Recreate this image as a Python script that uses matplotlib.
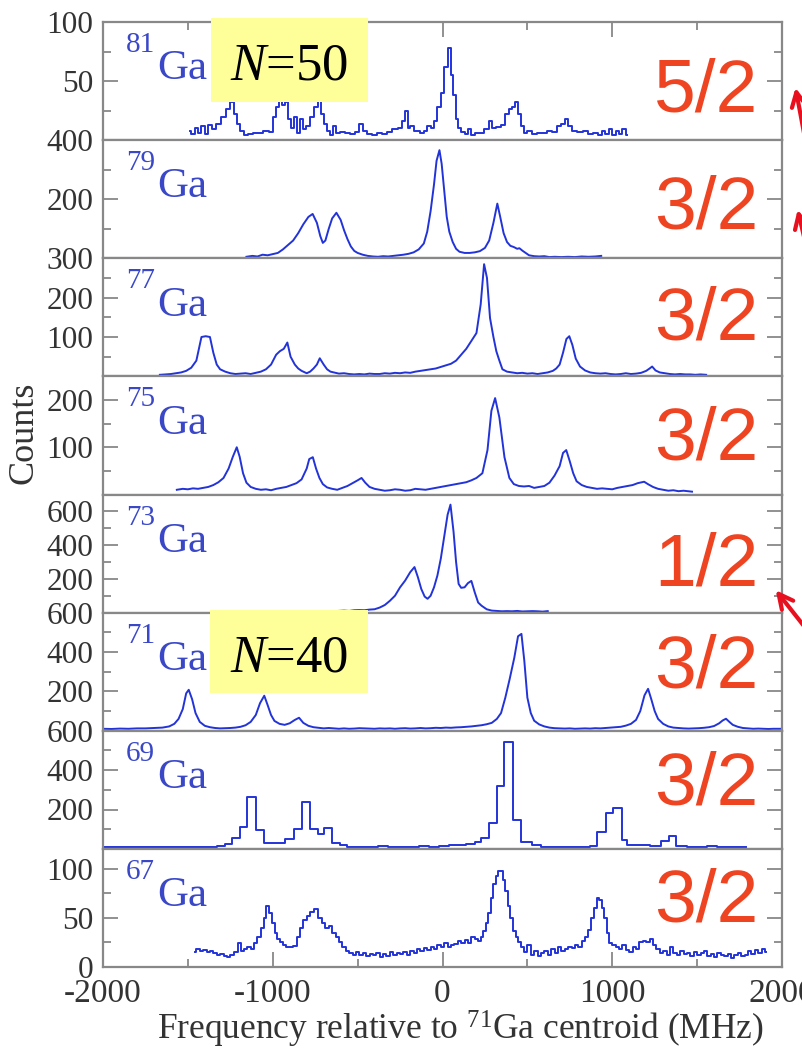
import numpy as np
import matplotlib
matplotlib.use('Agg')
import matplotlib.pyplot as plt
from matplotlib.ticker import MultipleLocator
from matplotlib.patches import Rectangle, FancyArrowPatch

plt.rcParams['font.family'] = 'Liberation Serif'
plt.rcParams['mathtext.fontset'] = 'custom'
plt.rcParams['mathtext.rm'] = 'Liberation Serif'
plt.rcParams['mathtext.it'] = 'Liberation Serif:italic'
plt.rcParams['axes.unicode_minus'] = False

# ---- data (frequency in MHz, counts) ----
f81 = [-1490, -1470, -1450, -1430, -1410, -1390, -1370, -1350, -1320, -1290, -1260, -1240, -1220, -1200,
       -1180, -1160, -1130, -1100, -1070, -1040, -1010, -990, -970, -955, -940, -920, -900, -880, -865,
       -850, -830, -815, -795, -770, -745, -725, -705, -690, -670, -650, -640, -620, -590, -560, -530,
       -500, -480, -460, -430, -400, -370, -340, -310, -280, -250, -230, -212, -200, -180, -150, -120,
       -100, -80, -60, -40, -20, 0, 20, 40, 55, 70, 85, 100, 120, 140, 160, 180, 200, 230, 260, 288,
       300, 330, 360, 380, 400, 420, 435, 450, 470, 490, 510, 540, 570, 600, 630, 660, 690, 710, 729,
       750, 780, 810, 840, 870, 900, 930, 950, 970, 990, 1010, 1030, 1050, 1070, 1088]
c81 = [8, 5, 10, 6, 12, 5, 13, 9, 14, 20, 26, 32, 22, 14,
       8, 4, 5, 6, 6, 8, 7, 20, 28, 40, 30, 32, 18, 10, 20,
       6, 18, 9, 12, 20, 28, 34, 22, 14, 8, 4, 12, 6, 7, 6, 5,
       7, 14, 8, 5, 4, 6, 5, 7, 9, 10, 16, 25, 10, 12, 8, 6,
       8, 12, 10, 16, 28, 40, 62, 78, 55, 38, 18, 10, 7, 5, 9, 4, 6, 6, 9, 16,
       10, 11, 13, 22, 26, 28, 32, 22, 12, 6, 8, 5, 6, 6, 8, 7, 12, 14, 18,
       12, 8, 7, 8, 5, 6, 4, 8, 5, 9, 4, 8, 5, 9, 4]

f79 = [-1155, -1120, -1090, -1060, -1030, -1000, -970, -940, -910, -880, -850, -820, -790, -765, -740,
       -720, -705, -690, -670, -650, -625, -600, -580, -560, -540, -520, -500, -470, -440, -410, -380,
       -350, -320, -290, -260, -230, -200, -170, -140, -110, -90, -70, -50, -35, -18, -5, 10, 25, 40,
       60, 80, 100, 130, 160, 190, 220, 250, 275, 300, 323, 340, 360, 380, 400, 420, 440, 453, 470, 490,
       510, 540, 570, 600, 630, 660, 700, 740, 780, 820, 860, 900, 935]
c79 = [5, 8, 6, 12, 10, 14, 18, 30, 45, 60, 85, 115, 140, 150, 120,
       75, 52, 60, 100, 135, 154, 130, 95, 65, 40, 25, 18, 12, 8, 6, 5,
       7, 6, 8, 10, 12, 15, 20, 30, 50, 90, 160, 250, 330, 366, 320, 230, 140, 90,
       55, 32, 22, 18, 18, 20, 24, 35, 60, 120, 185, 140, 85, 55, 42, 38, 32, 34, 26, 18,
       10, 7, 6, 7, 4, 5, 4, 5, 4, 6, 5, 6, 8]

f77 = [-1665, -1630, -1600, -1570, -1540, -1510, -1480, -1450, -1420, -1395, -1370, -1350, -1330, -1310,
       -1280, -1250, -1220, -1190, -1160, -1130, -1100, -1070, -1040, -1010, -980, -958, -935, -914,
       -895, -870, -850, -830, -800, -780, -760, -740, -723, -700, -680, -660, -640, -610, -580, -550,
       -520, -490, -460, -430, -400, -370, -340, -310, -280, -250, -220, -190, -160, -130, -100, -70,
       -40, -10, 20, 50, 80, 110, 140, 170, 200, 225, 245, 262, 280, 300, 317, 335, 353, 380, 410, 440,
       470, 500, 530, 560, 590, 620, 650, 670, 690, 710, 730, 747, 765, 785, 810, 840, 870, 900, 930,
       960, 990, 1020, 1050, 1080, 1110, 1140, 1170, 1200, 1220, 1235, 1255, 1280, 1310, 1340, 1370,
       1400, 1430, 1460, 1490, 1520, 1553]
c77 = [4, 5, 6, 8, 10, 14, 22, 40, 100, 102, 100, 60, 30, 18,
       12, 8, 6, 7, 8, 6, 9, 12, 18, 30, 55, 64, 70, 86,
       50, 30, 20, 14, 8, 12, 20, 30, 46, 30, 18, 12, 10, 7, 8, 6,
       5, 6, 5, 7, 6, 6, 8, 7, 9, 8, 10, 9, 12, 14, 16, 18,
       20, 24, 28, 32, 40, 55, 70, 90, 110, 183, 285, 250, 148, 100, 64, 40, 18, 12, 10, 8,
       9, 7, 8, 6, 8, 10, 14, 20, 30, 60, 95, 102, 80, 45, 25, 15, 10, 8, 7,
       8, 6, 5, 6, 8, 6, 7, 9, 14, 20, 25, 15, 10, 8, 6, 5,
       6, 5, 5, 4, 5, 4]

f75 = [-1565, -1530, -1500, -1470, -1440, -1410, -1380, -1350, -1320, -1290, -1260, -1235, -1212,
       -1195, -1175, -1155, -1130, -1100, -1070, -1040, -1010, -980, -950, -920, -890, -860, -830,
       -800, -785, -764, -745, -725, -705, -680, -650, -620, -590, -560, -530, -500, -477, -455, -430,
       -400, -370, -340, -310, -280, -250, -220, -190, -160, -130, -100, -70, -40, -10, 20, 50, 80,
       110, 140, 170, 200, 235, 265, 288, 310, 335, 365, 394, 420, 450, 480, 510, 540, 570, 600, 630,
       660, 690, 710, 729, 750, 770, 790, 820, 850, 880, 910, 940, 970, 1000, 1030, 1060, 1090, 1120,
       1150, 1188, 1210, 1240, 1270, 1300, 1330, 1360, 1390, 1420, 1470]
c75 = [10, 12, 11, 13, 12, 14, 16, 20, 26, 35, 55, 80, 100,
       80, 45, 25, 16, 12, 10, 11, 9, 12, 14, 16, 20, 24, 32,
       55, 75, 79, 55, 35, 22, 15, 12, 10, 14, 18, 24, 30, 35, 25, 16,
       12, 10, 8, 9, 11, 10, 8, 9, 12, 11, 10, 12, 14, 16, 18, 20, 22,
       24, 26, 30, 35, 45, 94, 177, 204, 163, 79, 35, 22, 18, 17, 18, 14, 16, 18, 25,
       40, 60, 88, 94, 70, 45, 28, 20, 16, 14, 12, 13, 12, 11, 14, 16, 18, 20,
       24, 27, 22, 16, 12, 10, 8, 9, 7, 8, 6]

f73 = [-615, -580, -550, -520, -490, -460, -430, -400, -370, -340, -310, -280, -250, -220, -190, -165,
       -145, -125, -105, -88, -70, -50, -30, -10, 10, 30, 47, 65, 80, 95, 110, 130, 150, 170, 190, 210,
       230, 260, 290, 320, 350, 380, 410, 440, 470, 500, 530, 560, 590, 620]
c73 = [10, 12, 10, 14, 15, 14, 18, 20, 30, 45, 70, 100, 150, 190, 240, 270,
       210, 140, 95, 82, 100, 150, 220, 320, 450, 580, 640, 480, 300, 170, 147, 150, 175, 188, 120, 60,
       41, 20, 12, 10, 8, 9, 8, 10, 7, 8, 9, 8, 6, 9]

f71 = [-2000, -1950, -1900, -1850, -1800, -1750, -1700, -1650, -1610, -1580, -1555, -1530, -1510, -1495,
       -1475, -1455, -1430, -1400, -1370, -1340, -1310, -1280, -1250, -1220, -1190, -1160, -1130, -1100,
       -1075, -1050, -1030, -1010, -990, -960, -930, -900, -870, -845, -820, -790, -760, -730, -700,
       -670, -640, -610, -580, -550, -520, -490, -460, -430, -400, -370, -340, -310, -280, -250, -220,
       -190, -160, -130, -100, -70, -40, -10, 20, 50, 80, 110, 140, 170, 200, 230, 260, 290, 320, 345,
       370, 395, 423, 445, 465, 482, 500, 520, 540, 570, 600, 630, 660, 690, 720, 750, 780, 810, 840,
       870, 900, 930, 960, 990, 1020, 1050, 1080, 1110, 1140, 1165, 1190, 1211, 1230, 1250, 1270, 1300,
       1330, 1360, 1390, 1420, 1450, 1480, 1510, 1540, 1570, 1600, 1630, 1650, 1670, 1690, 1710, 1740,
       1770, 1800, 1830, 1860, 1890, 1920, 1950, 2000]
c71 = [10, 9, 11, 10, 12, 12, 14, 16, 22, 35, 60, 110, 190, 208,
       160, 90, 45, 25, 18, 14, 12, 13, 14, 16, 20, 28, 45, 80,
       140, 178, 130, 80, 50, 35, 30, 38, 55, 66, 40, 25, 18, 15, 12,
       14, 12, 10, 12, 10, 11, 13, 12, 11, 10, 12, 11, 12, 10, 12, 13,
       11, 12, 14, 12, 13, 15, 14, 16, 15, 17, 18, 20, 22, 25, 28, 33, 40, 60, 90,
       168, 260, 371, 480, 492, 355, 168, 90, 51, 32, 22, 16, 13, 12, 11, 12, 10, 11, 12,
       11, 13, 12, 14, 16, 18, 20, 26, 35, 55, 100, 180, 213, 160, 100, 60, 35,
       22, 16, 14, 12, 11, 12, 13, 15, 18, 24, 38, 52, 61, 45, 30, 20,
       14, 12, 10, 11, 10, 9, 10, 10]

# 69Ga is a coarse histogram: bin left edges and counts
f69 = [-2000, -1900, -1800, -1700, -1600, -1500, -1400, -1330, -1280, -1240, -1193, -1149, -1097, -1053,
       -1007, -929, -877, -830, -778, -734, -696, -649, -605, -560, -500, -440, -380, -320, -260, -200,
       -140, -80, -20, 40, 90, 140, 190, 229, 276, 323, 364, 418, 464, 530, 580, 640, 700, 760, 820,
       870, 912, 963, 1005, 1058, 1085, 1150, 1220, 1290, 1335, 1376, 1440, 1500, 1560, 1620, 1680,
       1740, 1790]
c69 = [12, 11, 10, 11, 9, 10, 12, 15, 25, 55, 110, 265, 95, 28,
       28, 50, 100, 237, 100, 76, 106, 30, 18, 12, 8, 10, 14, 10, 12, 10,
       13, 12, 15, 18, 22, 27, 35, 55, 130, 320, 545, 148, 35, 18, 12, 10, 8, 10, 12,
       15, 86, 182, 207, 45, 20, 18, 16, 40, 66, 15, 12, 10, 13, 11, 12,
       10, 10]

f67 = [-1460, -1440, -1420, -1400, -1380, -1360, -1340, -1320, -1300, -1280, -1260, -1240, -1220, -1195,
       -1180, -1160, -1140, -1120, -1100, -1080, -1060, -1045, -1029, -1010, -995, -980, -965, -950,
       -930, -910, -890, -870, -850, -830, -810, -790, -770, -741, -720, -700, -680, -660, -640, -620,
       -600, -580, -560, -540, -520, -500, -480, -460, -440, -420, -400, -380, -360, -340, -320, -300,
       -280, -260, -240, -220, -200, -180, -160, -140, -120, -100, -80, -60, -40, -20, 0, 20, 40, 60,
       80, 100, 120, 141, 160, 180, 200, 218, 235, 247, 262, 276, 292, 306, 320, 335, 350, 362, 376,
       390, 405, 423, 440, 453, 470, 490, 510, 530, 550, 570, 590, 610, 630, 650, 670, 690, 710, 730,
       750, 770, 790, 810, 830, 850, 870, 885, 900, 915, 930, 945, 960, 975, 990, 1010, 1030, 1050,
       1070, 1090, 1110, 1130, 1150, 1170, 1190, 1210, 1230, 1250, 1270, 1290, 1310, 1330, 1350, 1370,
       1390, 1410, 1430, 1450, 1470, 1490, 1510, 1530, 1550, 1570, 1590, 1610, 1630, 1650, 1670, 1690,
       1710, 1730, 1750, 1770, 1790, 1810, 1830, 1850, 1870, 1890, 1905]
c67 = [15, 18, 16, 17, 15, 16, 14, 12, 13, 11, 10, 12, 15, 24,
       16, 18, 20, 18, 24, 30, 40, 50, 62, 55, 45, 35, 28, 25,
       22, 20, 20, 21, 30, 40, 48, 52, 56, 59, 50, 45, 40, 42, 35, 30,
       25, 20, 16, 14, 12, 15, 12, 14, 11, 13, 12, 14, 10, 13, 11, 15,
       12, 14, 13, 15, 12, 16, 14, 18, 16, 19, 17, 20, 18, 22, 20, 24, 20, 22,
       23, 26, 24, 27, 24, 30, 28, 26, 30, 37, 45, 55, 70, 84, 92, 98, 98, 88, 77,
       62, 50, 37, 30, 25, 20, 15, 22, 12, 16, 11, 14, 16, 12, 18, 14, 20, 16, 18,
       20, 19, 22, 20, 26, 30, 38, 50, 60, 70, 68, 60, 50, 35, 24, 22, 20, 18,
       22, 17, 15, 20, 18, 25, 26, 25, 28, 22, 18, 14, 16, 12, 20, 14,
       12, 16, 13, 14, 11, 15, 12, 14, 16, 11, 13, 10, 14, 12, 11, 13,
       9, 12, 14, 11, 12, 16, 13, 17, 14, 18, 15]

isotopes = ['81', '79', '77', '75', '73', '71', '69', '67']
spins = ['5/2', '3/2', '3/2', '3/2', '1/2', '3/2', '3/2', '3/2']
spectra = [(f81, c81), (f79, c79), (f77, c77), (f75, c75),
           (f73, c73), (f71, c71), (f69, c69), (f67, c67)]

# axis ranges per panel
ymax = [100, 400, 300, 250, 700, 600, 600, 120]
ystep = [50, 200, 100, 100, 200, 200, 200, 50]
spin_y = [0.246, 0.254, 0.314, 0.297, 0.229, 0.364, 0.373, 0.381]

blue = '#2233d8'
label_blue = '#3a48c8'
red = '#ee4422'
grey = '#888888'

fig, axes = plt.subplots(8, 1, figsize=(8.03, 10.52), dpi=100)
fig.subplots_adjust(left=103/803, right=782/803, top=1-22/1052, bottom=1-967/1052, hspace=0)

for i, ax in enumerate(axes):
    f, c = spectra[i]
    if isotopes[i] == '69':
        ax.step(f, c, where='post', color=blue, lw=1.4)
    elif isotopes[i] in ('67', '81'):
        ax.plot(f, c, drawstyle='steps-mid', color=blue, lw=1.4)
    else:
        ax.plot(f, c, color=blue, lw=1.4)
    ax.set_xlim(-2000, 2000)
    ax.set_ylim(0, ymax[i])
    if i == len(axes) - 1:
        ax.set_yticks(np.arange(0, ymax[i] + 1, ystep[i]))
    else:
        ax.set_yticks(np.arange(ystep[i], ymax[i] + 1, ystep[i]))
    ax.yaxis.set_minor_locator(MultipleLocator(ystep[i] / 2))
    ax.xaxis.set_major_locator(MultipleLocator(1000))
    ax.xaxis.set_minor_locator(MultipleLocator(500))
    for s in ax.spines.values():
        s.set_color(grey)
        s.set_linewidth(1.6)
    ax.tick_params(axis='y', which='both', direction='in', left=True, right=True,
                   color=grey, width=1.3, labelsize=22.5, labelcolor='#333333', pad=7)
    ax.tick_params(axis='y', which='major', length=11)
    ax.tick_params(axis='y', which='minor', length=6)
    ax.tick_params(axis='x', which='both', direction='in', bottom=(i == 7), top=(i == 0),
                   labelbottom=(i == 7), color=grey, width=1.3, labelsize=24,
                   labelcolor='#333333', pad=8)
    ax.tick_params(axis='x', which='major', length=11)
    ax.tick_params(axis='x', which='minor', length=6)

    ax.text(0.034, 0.745, isotopes[i], transform=ax.transAxes, color=label_blue,
            fontsize=21, va='baseline', ha='left')
    ax.text(0.0795, 0.515, 'Ga', transform=ax.transAxes, color=label_blue,
            fontsize=31, va='baseline', ha='left')
    ax.text(0.965, spin_y[i], spins[i], transform=ax.transAxes, color=red,
            fontsize=54, family='Liberation Sans', va='baseline', ha='right')

# yellow N boxes
for (x0, y0, x1, y1, txt, base) in [(211, 18, 368, 102, r'$N$=50', 80),
                                     (210, 610, 368, 693, r'$N$=40', 672)]:
    fig.add_artist(Rectangle((x0/803, 1 - y1/1052), (x1 - x0)/803, (y1 - y0)/1052,
                             transform=fig.transFigure, facecolor='#ffff99',
                             edgecolor='none', zorder=10))
    fig.text((x0 + x1)/2/803, 1 - base/1052, txt, ha='center', va='baseline',
             fontsize=38, color='black', zorder=11)

# red arrows on the right edge
for (hx, hy, tx, ty) in [(795, 85, 810, 165), (797, 207, 810, 262), (774, 588, 815, 640)]:
    fig.add_artist(FancyArrowPatch((tx/803, 1 - ty/1052), (hx/803, 1 - hy/1052),
                                   transform=fig.transFigure, arrowstyle='->',
                                   mutation_scale=26, color='#e8101e', lw=3, zorder=12))

fig.text(24/803, 1 - 433/1052, 'Counts', rotation=90, ha='center', va='center',
         fontsize=26, color='#333333')
fig.text(460/803, 1 - 1040/1052, r'Frequency relative to $^{71}$Ga centroid (MHz)',
         ha='center', va='baseline', fontsize=25.5, color='#333333')

fig.savefig('out.png', dpi=100)
